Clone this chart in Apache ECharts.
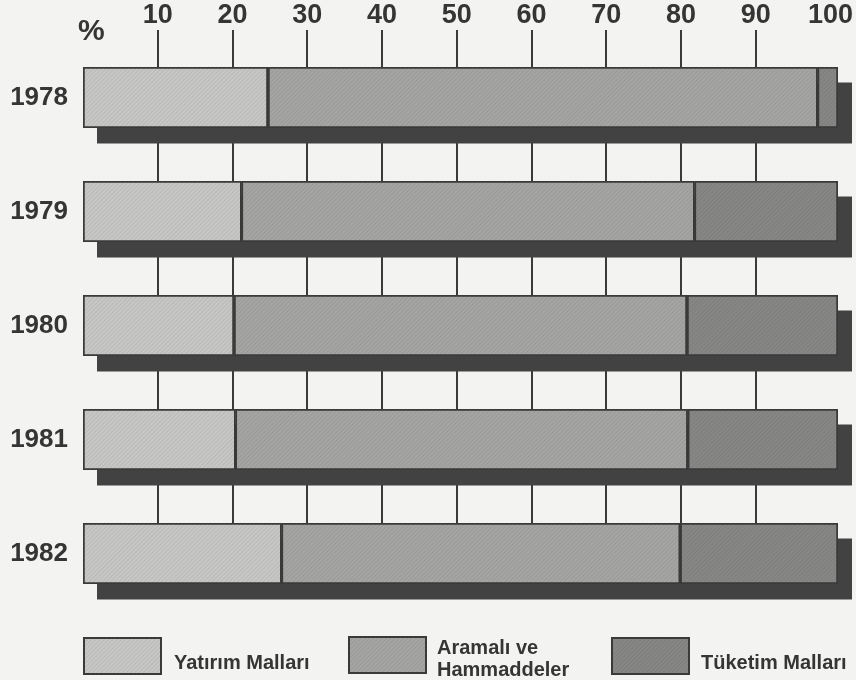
<!DOCTYPE html>
<html>
<head>
<meta charset="utf-8">
<script src="https://cdn.jsdelivr.net/npm/echarts@6/dist/echarts.min.js"></script>
<style>
  html, body { margin: 0; padding: 0; background: #f3f3f1; }
  #chart { width: 856px; height: 680px; }
</style>
</head>
<body>
<div id="chart"></div>
<script>
// Import composition by year, percent of total
const years = ['1978', '1979', '1980', '1981', '1982'];
const yatirim = [24.5, 21.0, 20.0, 20.2, 26.3];
const aramali = [72.8, 60.0, 60.0, 59.9, 52.8];
const tuketim = [2.7, 19.0, 20.0, 19.9, 20.9];
const fullBar = [100, 100, 100, 100, 100];
const tickLabels = ['', '10', '20', '30', '40', '50', '60', '70', '80', '90', '100'];

const FONT = '"Liberation Sans", Arial, sans-serif';
const INK = '#353535';

const chart = echarts.init(document.getElementById('chart'), null, { renderer: 'canvas' });

// Fine diagonal print texture on the bars
function texture(alpha) {
  return {
    symbol: 'rect',
    symbolSize: 1,
    color: 'rgba(0,0,0,' + alpha + ')',
    dashArrayX: [1, 0],
    dashArrayY: [1, 2],
    rotation: -Math.PI / 4
  };
}

function segment(name, data, color) {
  return {
    name: name,
    type: 'bar',
    stack: 'total',
    xAxisIndex: 0,
    yAxisIndex: 0,
    barWidth: 61,
    z: 3,
    data: data,
    itemStyle: {
      color: color,
      borderColor: '#3a3a3a',
      borderWidth: 1.5,
      decal: texture(0.07)
    },
    emphasis: { disabled: true }
  };
}

// One legend box per series; a thin spacer line on top pushes the label down
function legendBox(seriesName, left, top, lines, spacer, gap) {
  const text = '{s| }\n' + lines.map(function (l) { return '{a|' + l + '}'; }).join('\n');
  return {
    data: [{ name: seriesName, icon: 'rect' }],
    left: left,
    top: top,
    padding: 0,
    itemWidth: 77,
    itemHeight: 36,
    itemGap: 0,
    selectedMode: false,
    formatter: function () { return text; },
    textStyle: {
      fontFamily: FONT,
      fontWeight: 'bold',
      fontSize: 20,
      color: INK,
      padding: [0, 0, 0, gap],
      rich: {
        s: { fontSize: 2, lineHeight: spacer, height: spacer },
        a: { fontFamily: FONT, fontWeight: 'bold', fontSize: 20, color: INK, lineHeight: 22 }
      }
    }
  };
}

chart.setOption({
  backgroundColor: '#f3f3f1',
  animation: false,
  aria: { enabled: false },
  grid: [
    // bars
    { left: 83, top: 40.5, width: 755, height: 570 },
    // drop shadow behind the bars
    { left: 97, top: 56, width: 755, height: 570 },
    // vertical rules and top scale
    { left: 83, top: 30, width: 755, height: 553 }
  ],
  xAxis: [
    { gridIndex: 0, type: 'value', min: 0, max: 100, show: false },
    { gridIndex: 1, type: 'value', min: 0, max: 100, show: false },
    {
      gridIndex: 2, type: 'value', min: 0, max: 100, interval: 10,
      position: 'top',
      axisLine: { show: false },
      axisTick: { show: false },
      axisLabel: {
        margin: 1,
        fontFamily: FONT,
        fontWeight: 'bold',
        fontSize: 27,
        color: INK,
        formatter: function (v) { return tickLabels[Math.round(v / 10)]; }
      },
      splitLine: {
        show: true,
        showMinLine: false,
        showMaxLine: false,
        lineStyle: { color: '#3a3a3a', width: 2 }
      }
    }
  ],
  yAxis: [
    {
      gridIndex: 0, type: 'category', data: years, inverse: true,
      axisLine: { show: false },
      axisTick: { show: false },
      axisLabel: {
        margin: 15,
        fontFamily: FONT,
        fontWeight: 'bold',
        fontSize: 26,
        color: INK
      }
    },
    { gridIndex: 1, type: 'category', data: years, inverse: true, show: false },
    { gridIndex: 2, type: 'category', data: years, inverse: true, show: false }
  ],
  legend: [
    legendBox('Yatırım Malları', 83, 637, ['Yatırım Malları'], 14, 8),
    legendBox('Aramalı ve Hammaddeler', 348, 629, ['Aramalı ve', 'Hammaddeler'], 8, 6),
    legendBox('Tüketim Malları', 611, 637, ['Tüketim Malları'], 14, 7)
  ],
  graphic: [
    {
      type: 'text',
      left: 78,
      top: 17,
      style: {
        text: '%',
        font: 'bold 30px ' + FONT,
        fill: INK
      }
    }
  ],
  series: [
    {
      name: 'shadow',
      type: 'bar',
      xAxisIndex: 1,
      yAxisIndex: 1,
      barWidth: 61,
      z: 2,
      data: fullBar,
      itemStyle: { color: '#424242' },
      emphasis: { disabled: true },
      silent: true
    },
    segment('Yatırım Malları', yatirim, '#c7c7c5'),
    segment('Aramalı ve Hammaddeler', aramali, '#a5a5a3'),
    segment('Tüketim Malları', tuketim, '#878786')
  ]
});
</script>
</body>
</html>
